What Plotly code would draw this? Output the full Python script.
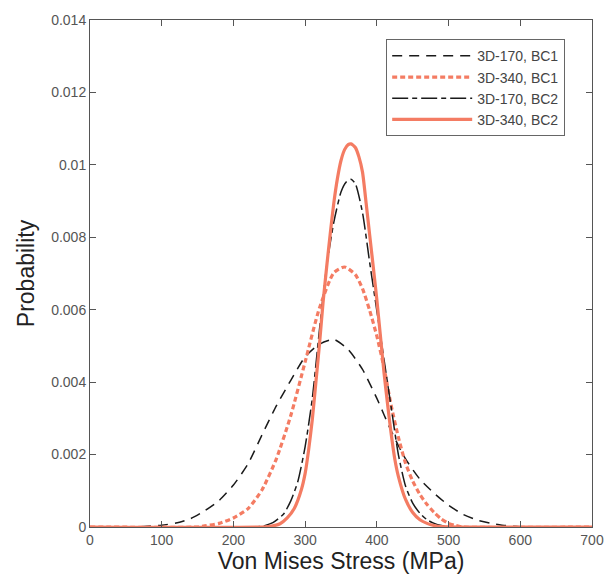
import plotly.graph_objects as go

# ---- data ----
x_170_bc1 = [0, 60, 80, 100, 120, 140, 160, 180, 200, 220, 240, 260, 280, 300, 320, 340, 360,
             380, 400, 420, 440, 460, 480, 500, 520, 540, 560, 580, 600, 620, 700]
y_170_bc1 = [0, 0, 0.00002, 0.00005, 0.00011, 0.00023, 0.00045, 0.00073, 0.00116, 0.00173,
             0.00255, 0.00335, 0.00405, 0.0047, 0.00505, 0.00518, 0.0049, 0.00435, 0.00355,
             0.00265, 0.00188, 0.00132, 0.00093, 0.0006, 0.00035, 0.00019, 0.0001, 0.00004,
             0.00001, 0, 0]

x_340_bc1 = [0, 150, 160, 180, 200, 220, 240, 260, 280, 300, 320, 340, 355, 370, 380, 390, 400,
             410, 420, 430, 440, 450, 460, 470, 480, 490, 500, 510, 520, 700]
y_340_bc1 = [0, 0, 0.00003, 0.0001, 0.00025, 0.0005, 0.00103, 0.00189, 0.00308, 0.00456,
             0.00605, 0.00702, 0.00718, 0.00697, 0.00658, 0.00598, 0.00527, 0.0044, 0.00335,
             0.00248, 0.00176, 0.00127, 0.0009, 0.00062, 0.0004, 0.00022, 0.0001, 0.00004, 0, 0]

x_170_bc2 = [0, 220, 240, 255, 270, 280, 290, 300, 310, 320, 330, 340, 350, 357, 364, 370, 380,
             390, 400, 410, 420, 430, 440, 450, 460, 470, 480, 490, 500, 510, 700]
y_170_bc2 = [0, 0, 0.00002, 0.00012, 0.00036, 0.00072, 0.00127, 0.00222, 0.00355, 0.00545,
             0.0072, 0.00842, 0.00925, 0.00952, 0.0096, 0.00948, 0.00868, 0.0073, 0.00597,
             0.00462, 0.0033, 0.002, 0.00113, 0.00066, 0.00038, 0.0002, 0.0001, 0.00004,
             0.00001, 0, 0]

x_340_bc2 = [0, 240, 255, 265, 275, 285, 295, 300, 305, 310, 315, 320, 325, 330, 335, 340, 345,
             350, 355, 360, 364, 370, 375, 380, 385, 390, 395, 400, 405, 410, 415, 420, 425,
             430, 440, 450, 460, 470, 480, 490, 700]
y_340_bc2 = [0, 0, 0.00003, 0.00009, 0.00025, 0.00052, 0.00105, 0.00148, 0.00215, 0.00297,
             0.004, 0.00505, 0.0062, 0.00718, 0.0081, 0.00895, 0.00962, 0.01012, 0.01042,
             0.01056, 0.01058, 0.01048, 0.01022, 0.0098, 0.00895, 0.00806, 0.00718, 0.00627,
             0.00527, 0.00426, 0.00338, 0.00257, 0.00188, 0.0014, 0.00076, 0.0004, 0.0002,
             0.0001, 0.00004, 0.00001, 0]

series_names = ["3D-170, BC1", "3D-340, BC1", "3D-170, BC2", "3D-340, BC2"]
x_ticks = [0, 100, 200, 300, 400, 500, 600, 700]
y_ticks = [0, 0.002, 0.004, 0.006, 0.008, 0.01, 0.012, 0.014]
y_tick_text = ["0", "0.002", "0.004", "0.006", "0.008", "0.01", "0.012", "0.014"]

RED = "#F47C63"
BLACK = "#1a1a1a"
FONT = "Liberation Sans, Arial, sans-serif"

fig = go.Figure()
fig.add_trace(go.Scatter(x=x_170_bc1, y=y_170_bc1, name=series_names[0], mode="lines",
                         line=dict(color=BLACK, width=1.5, dash="10px,7px", shape="spline", smoothing=0.6)))
fig.add_trace(go.Scatter(x=x_340_bc1, y=y_340_bc1, name=series_names[1], mode="lines",
                         line=dict(color=RED, width=3.2, dash="5px,3px", shape="spline", smoothing=0.6)))
fig.add_trace(go.Scatter(x=x_170_bc2, y=y_170_bc2, name=series_names[2], mode="lines",
                         line=dict(color=BLACK, width=1.5, dash="16px,4px,5px,4px", shape="spline", smoothing=0.6)))
fig.add_trace(go.Scatter(x=x_340_bc2, y=y_340_bc2, name=series_names[3], mode="lines",
                         line=dict(color=RED, width=3.2, shape="spline", smoothing=0.6)))

axis_common = dict(showline=True, linecolor="#555555", linewidth=1, mirror="ticks",
                   ticks="inside", ticklen=6, tickcolor="#555555", showgrid=False, zeroline=False,
                   tickfont=dict(family=FONT, size=14, color="#555555"))

fig.update_xaxes(range=[0, 700], tickvals=x_ticks, **axis_common,
                 title=dict(text="Von Mises Stress (MPa)", font=dict(family=FONT, size=23, color="#222222"),
                            standoff=4))
fig.update_yaxes(range=[0, 0.014], tickvals=y_ticks, ticktext=y_tick_text, **axis_common,
                 title=dict(text="Probability", font=dict(family=FONT, size=23, color="#222222"),
                            standoff=10))

fig.update_layout(
    width=616, height=580,
    margin=dict(l=90, r=13, t=13, b=53),
    paper_bgcolor="white", plot_bgcolor="white",
    font=dict(family=FONT),
    legend=dict(x=0.59, y=0.962, xanchor="left", yanchor="top",
                bgcolor="white", bordercolor="#666666", borderwidth=1,
                font=dict(family=FONT, size=14, color="#444444"),
                itemwidth=80, tracegroupgap=0),
)

fig.write_html("out.html")
